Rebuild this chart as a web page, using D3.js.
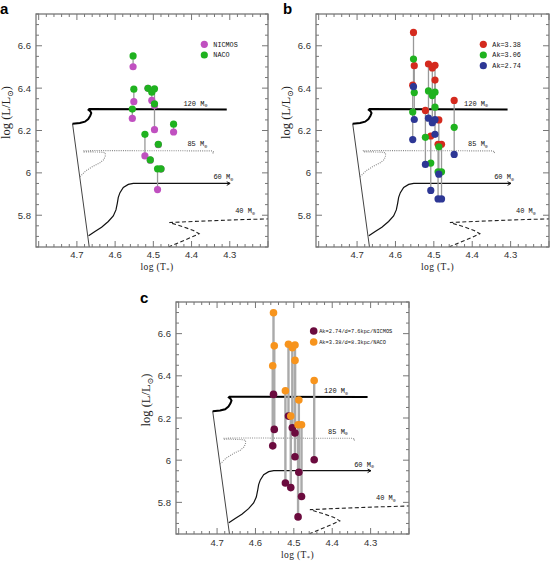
<!DOCTYPE html>
<html><head><meta charset="utf-8">
<script src="https://cdn.jsdelivr.net/npm/d3@7"></script>
<style>body{margin:0;background:#fff} svg{display:block}</style>
</head><body><svg id="chart" width="550" height="563"></svg>
<script>
// ---------- data ----------
const starLogT = [4.553, 4.551, 4.555, 4.514, 4.504, 4.497, 4.497, 4.447, 4.522, 4.487, 4.508, 4.489, 4.480];
// panel a
const nicmosL = [6.501, 6.336, 6.257, 6.399, 6.342, 6.318, 6.204, 6.193, 6.080, 6.133, 6.060, 5.921, 6.018];
const nacoL   = [6.552, 6.395, 6.301, 6.399, 6.381, 6.397, 6.326, 6.230, 6.182, 6.135, 6.061, 6.019, 6.019];
// panel b
const ak338L = [6.663, 6.506, 6.414, 6.514, 6.495, 6.508, 6.438, 6.342, 6.295, 6.250, 6.174, 6.135, 6.135];
const ak306L = [6.537, 6.379, 6.287, 6.387, 6.365, 6.381, 6.310, 6.215, 6.168, 6.123, 6.046, 6.005, 6.005];
const ak274L = [6.407, 6.252, 6.157, 6.258, 6.237, 6.251, 6.182, 6.087, 6.040, 5.994, 5.917, 5.877, 5.877];
// panel c
const nicmosCL = [6.312, 6.146, 6.068, 6.209, 6.154, 6.129, 6.016, 6.002, 5.892, 5.943, 5.870, 5.731, 5.828];
const nacoCL   = [6.699, 6.542, 6.448, 6.550, 6.533, 6.546, 6.473, 6.378, 6.329, 6.285, 6.209, 6.168, 6.168];

// evolutionary tracks
const zamsT = [4.7114, 4.6677];
const zamsL = [6.2321, 5.6497];
const t120T = [4.7114, 4.6921, 4.6790, 4.6703, 4.6651, 4.6624, 4.6651, 4.6694, 4.6677, 4.3079];
const t120L = [6.2321, 6.2352, 6.2415, 6.2540, 6.2697, 6.2822, 6.2916, 6.2978, 6.3010, 6.2994];
const t85T = [4.6921, 4.6764, 4.6572, 4.6397, 4.6293, 4.6258, 4.6258, 4.6354, 4.6572, 4.6817, 4.6834, 4.6572, 4.3463, 4.3410, 4.3463];
const t85L = [5.9816, 6.0098, 6.0317, 6.0474, 6.0630, 6.0802, 6.0943, 6.0975, 6.0990, 6.0990, 6.1037, 6.1053, 6.1037, 6.0975, 6.0912];
const t60T = [4.6694, 4.6528, 4.6354, 4.6179, 4.6048, 4.5978, 4.5943, 4.5917, 4.5873, 4.5786, 4.5655, 4.5524, 4.2991];
const t60L = [5.7029, 5.7233, 5.7436, 5.7703, 5.7969, 5.8250, 5.8563, 5.8845, 5.9065, 5.9315, 5.9456, 5.9503, 5.9503];
const t60HeadT = [4.3079, 4.2991, 4.3079];
const t60HeadL = [5.9581, 5.9503, 5.9409];
const t40T = [4.4607, 4.4301, 4.3996, 4.3803, 4.3952, 4.4214, 4.4581, 4.3777, 4.2904, 4.1987];
const t40L = [5.6497, 5.6732, 5.6967, 5.7123, 5.7280, 5.7452, 5.7656, 5.7718, 5.7781, 5.7828];
const trackLabels = ["120", "85", "60", "40"];
const trackLabelT = [4.4214, 4.4109, 4.3428, 4.286];
const trackLabelL = [6.3166, 6.1257, 5.969, 5.809];

const xTickVals = [4.7, 4.6, 4.5, 4.4, 4.3];
const xTickLabels = ["4.7", "4.6", "4.5", "4.4", "4.3"];
const yTickVals = [5.8, 6.0, 6.2, 6.4, 6.6];
const yTickLabels = ["5.8", "6", "6.2", "6.4", "6.6"];

// ---------- drawing ----------
const svg = d3.select("#chart");
const defs = svg.append("defs");
const MONO = "'Liberation Mono', 'DejaVu Sans Mono', monospace";
const SERIF = "'Liberation Serif', 'DejaVu Serif', serif";
const SANS = "'Liberation Sans', Arial, sans-serif";

function drawPanel(o) {
  const x = d3.scaleLinear().domain([4.807, 4.2]).range([o.left, o.left + o.width]);
  const y = d3.scaleLinear().domain([5.65, 6.75]).range([o.top + o.height, o.top]);
  const g = svg.append("g");
  const cid = "clip-" + o.name;
  defs.append("clipPath").attr("id", cid).append("rect")
    .attr("x", o.left).attr("y", o.top).attr("width", o.width).attr("height", o.height);
  const plot = g.append("g").attr("clip-path", `url(#${cid})`);
  const line = d3.line().x(d => x(d[0])).y(d => y(d[1]));

  plot.append("path").datum(d3.zip(zamsT, zamsL)).attr("d", line)
    .attr("fill", "none").attr("stroke", "#444").attr("stroke-width", 1);
  plot.append("path").datum(d3.zip(t120T, t120L)).attr("d", line)
    .attr("fill", "none").attr("stroke", "#000").attr("stroke-width", 2);
  plot.append("path").datum(d3.zip(t85T, t85L)).attr("d", line)
    .attr("fill", "none").attr("stroke", "#888").attr("stroke-width", 1.1).attr("stroke-dasharray", "1,1.2");
  plot.append("path").datum(d3.zip(t60T, t60L)).attr("d", line)
    .attr("fill", "none").attr("stroke", "#111").attr("stroke-width", 1.2);
  plot.append("path").datum(d3.zip(t60HeadT, t60HeadL)).attr("d", line)
    .attr("fill", "none").attr("stroke", "#111").attr("stroke-width", 1);
  plot.append("path").datum(d3.zip(t40T, t40L)).attr("d", line)
    .attr("fill", "none").attr("stroke", "#222").attr("stroke-width", 1.1).attr("stroke-dasharray", "4,2.5");

  trackLabels.forEach((t, i) => {
    const tx = g.append("text").attr("x", x(trackLabelT[i])).attr("y", y(trackLabelL[i]))
      .attr("font-family", MONO).attr("font-size", 7).attr("fill", "#111");
    tx.append("tspan").text(t + " M");
    tx.append("tspan").text("\u2299").attr("font-size", 5).attr("dy", 1.5);
  });

  // connecting lines
  const series = o.series;
  starLogT.forEach((t, i) => {
    const vals = series.map(s => s.values[i]);
    plot.append("line").attr("x1", x(t)).attr("x2", x(t))
      .attr("y1", y(d3.min(vals))).attr("y2", y(d3.max(vals)))
      .attr("stroke", o.linkColor).attr("stroke-width", o.linkWidth);
  });
  series.forEach(s => {
    plot.selectAll(null).data(d3.zip(starLogT, s.values)).enter().append("circle")
      .attr("cx", d => x(d[0])).attr("cy", d => y(d[1])).attr("r", o.r).attr("fill", s.color);
  });

  // legend
  series.slice().sort((a, b) => a.legendOrder - b.legendOrder).forEach((s, i) => {
    const ly = o.legend.y + i * o.legend.dy;
    g.append("circle").attr("cx", o.legend.x).attr("cy", ly).attr("r", o.r).attr("fill", s.color);
    g.append("text").attr("x", o.legend.x + o.legend.tx).attr("y", ly + 2.3)
      .attr("font-family", MONO).attr("font-size", o.legend.fs).attr("fill", "#111").text(s.name);
  });

  // frame
  g.append("rect").attr("x", o.left).attr("y", o.top).attr("width", o.width).attr("height", o.height)
    .attr("fill", "none").attr("stroke", "#777").attr("stroke-width", 1.3);
  const tickColor = "#777";
  for (let k = 0; k <= 30; k++) {
    const v = 4.8 - k * 0.02;
    const major = k % 5 === 0;
    const len = major ? 6 : 3;
    [[o.top + o.height, -1], [o.top, 1]].forEach(([yy, dir]) => {
      g.append("line").attr("x1", x(v)).attr("x2", x(v)).attr("y1", yy).attr("y2", yy + dir * len)
        .attr("stroke", tickColor).attr("stroke-width", 1);
    });
  }
  for (let k = 0; k <= 22; k++) {
    const v = 5.65 + k * 0.05;
    const major = Math.abs(v * 5 - Math.round(v * 5)) < 1e-6;
    const len = major ? 6 : 3;
    [[o.left, 1], [o.left + o.width, -1]].forEach(([xx, dir]) => {
      g.append("line").attr("x1", xx).attr("x2", xx + dir * len).attr("y1", y(v)).attr("y2", y(v))
        .attr("stroke", tickColor).attr("stroke-width", 1);
    });
  }
  xTickVals.forEach((v, i) => {
    g.append("text").attr("x", x(v)).attr("y", o.top + o.height + o.tickDy).attr("text-anchor", "middle")
      .attr("font-family", SANS).attr("font-size", 9.5).attr("fill", "#333").text(xTickLabels[i]);
  });
  yTickVals.forEach((v, i) => {
    g.append("text").attr("x", o.left - 5).attr("y", y(v) + 3.5).attr("text-anchor", "end")
      .attr("font-family", SANS).attr("font-size", 9.5).attr("fill", "#333").text(yTickLabels[i]);
  });
  // axis titles
  const xt = g.append("text").attr("x", o.left + o.width / 2 + 5).attr("y", o.top + o.height + o.titleDy)
    .attr("text-anchor", "middle").attr("font-family", SERIF).attr("font-size", 9.5)
    .attr("letter-spacing", 0.4).attr("fill", "#222");
  xt.append("tspan").text("log  (T");
  xt.append("tspan").text("*").attr("font-size", 6.5).attr("dy", 2);
  xt.append("tspan").text(")").attr("dy", -2);
  const yt = g.append("text").attr("transform", `translate(${o.left - 26},${o.top + o.height / 2 - 18}) rotate(-90)`)
    .attr("text-anchor", "middle").attr("font-family", SERIF).attr("font-size", 12.5).attr("fill", "#222");
  yt.append("tspan").text("log  (L/L");
  yt.append("tspan").text("\u2299").attr("font-size", 8).attr("dy", 2.5);
  yt.append("tspan").text(")").attr("dy", -2.5);
  // panel letter
  g.append("text").attr("x", o.labelX).attr("y", o.labelY).attr("font-family", SANS)
    .attr("font-weight", "bold").attr("font-size", 15).attr("fill", "#000").text(o.name);
}

drawPanel({
  name: "a", left: 36, top: 14, width: 232, height: 233, labelX: 0, labelY: 14,
  tickDy: 10.5, titleDy: 22.5,
  r: 3.6, linkColor: "#999", linkWidth: 1.3,
  series: [
    {name: "NICMOS", values: nicmosL, color: "#c050c0", legendOrder: 0},
    {name: "NACO", values: nacoL, color: "#1fb21f", legendOrder: 1}
  ],
  legend: {x: 204.3, y: 44.3, dy: 10.7, tx: 9, fs: 6.8}
});
drawPanel({
  name: "b", left: 316, top: 14, width: 233, height: 233, labelX: 283, labelY: 14,
  tickDy: 10.5, titleDy: 22.5,
  r: 3.6, linkColor: "#999", linkWidth: 1.3,
  series: [
    {name: "Ak=3.38", values: ak338L, color: "#d42a1e", legendOrder: 0},
    {name: "Ak=3.06", values: ak306L, color: "#1fb21f", legendOrder: 1},
    {name: "Ak=2.74", values: ak274L, color: "#2d3795", legendOrder: 2}
  ],
  legend: {x: 483.3, y: 44.3, dy: 10.7, tx: 9, fs: 6.8}
});
drawPanel({
  name: "c", left: 176, top: 302, width: 233, height: 232, labelX: 140, labelY: 303,
  tickDy: 11.5, titleDy: 24,
  r: 3.8, linkColor: "#aaa", linkWidth: 2.4,
  series: [
    {name: "Ak=2.74/d=7.6kpc/NICMOS", values: nicmosCL, color: "#6b0b3e", legendOrder: 0},
    {name: "Ak=3.38/d=8.3kpc/NACO", values: nacoCL, color: "#f7941d", legendOrder: 1}
  ],
  legend: {x: 313.7, y: 331, dy: 11, tx: 5.5, fs: 5.3}
});
</script></body></html>
